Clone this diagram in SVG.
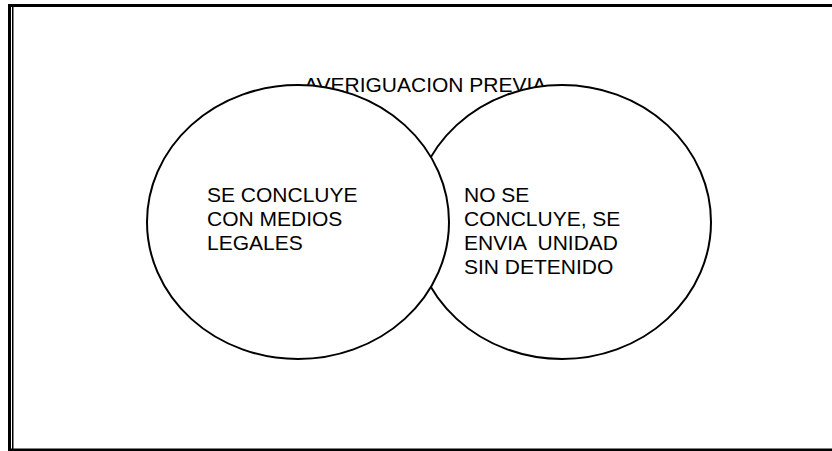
<svg xmlns="http://www.w3.org/2000/svg" width="832" height="451" viewBox="0 0 832 451">
<style>
.t{font-family:"Liberation Sans",Arial,sans-serif;font-size:21px;fill:#000;white-space:pre}
.c{fill:#fff;stroke:#000;stroke-width:2}
</style>
<rect x="0" y="0" width="832" height="451" fill="#fff"/>
<g id="frame" fill="#000">
<rect x="8" y="4" width="824" height="3"/>
<rect x="8" y="4" width="3" height="447"/>
<rect x="12" y="7" width="1.5" height="442"/>
<rect x="11" y="448.5" width="821" height="2.5"/>
</g>
<g id="title"><text class="t" x="304" y="92">AVERIGUACION PREVIA</text></g>
<g id="connectors"></g>
<g id="right">
<ellipse class="c" cx="562" cy="222" rx="149" ry="137"/>
<text class="t" x="464" y="202">NO SE</text>
<text class="t" x="464" y="226">CONCLUYE, SE</text>
<text class="t" x="464" y="250" xml:space="preserve">ENVIA  UNIDAD</text>
<text class="t" x="464" y="274">SIN DETENIDO</text>
</g>
<g id="left">
<ellipse class="c" cx="298" cy="222" rx="151" ry="137"/>
<text class="t" x="207" y="202">SE CONCLUYE</text>
<text class="t" x="207" y="226">CON MEDIOS</text>
<text class="t" x="207" y="250">LEGALES</text>
</g>
</svg>
